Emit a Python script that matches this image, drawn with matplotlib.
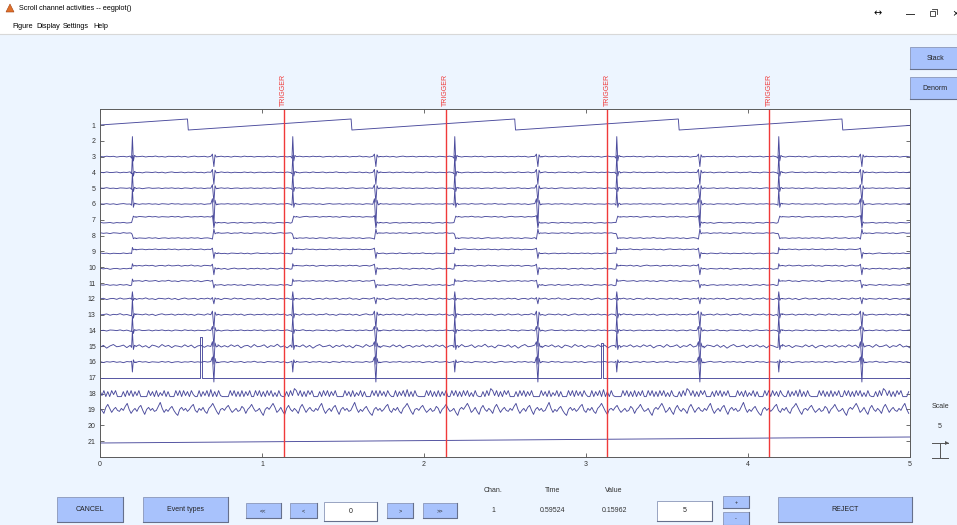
import numpy as np
import matplotlib.pyplot as plt
from matplotlib.patches import Rectangle, Polygon

plt.rcParams['font.family'] = ['Liberation Sans', 'DejaVu Sans']

W, H = 957, 525

# ---------------- data ----------------
channel_labels = [str(i) for i in range(1, 22)]
x_ticks = [0, 1, 2, 3, 4, 5]
trigger_times = [1.135, 2.135, 3.13, 4.13]
trigger_label = "TRIGGER"

# spike events (s)
times_A = [0.20, 1.19, 2.19, 3.19, 4.19]
times_B = [0.70, 1.70, 2.70, 3.70, 4.70]

# spike shapes (offset s, relative value)
spikeA_dt = [-0.014, -0.005, 0.0, 0.006, 0.013, 0.022]
spikeA_v = [0.0, -0.08, 1.0, -0.22, 0.06, 0.0]
spikeB_dt = [-0.016, -0.006, 0.003, 0.010, 0.018, 0.028]
spikeB_v = [0.0, -0.25, 1.0, -0.18, 0.04, 0.0]

# channels 3..16 : spike amplitude at A, at B, step A->B, ripple (pixels)
spike_chans = [3, 4, 5, 6, 7, 8, 9, 10, 11, 12, 13, 14, 15, 16]
ampA_px = [20, 17, 15, 15, -3, 3, 2, 2, 2, 7, 16, 14, 15, -10]
ampB_px = [-10, -12, -14, -21, -5, 4, -5, -6, -3, -5, -14, -16, -18, -20]
step_px = [0, 0, 0, 0, 6, -5, 4, 3, 4, 0, 0, 0, 0, 0]
ripple_px = [0.8, 0.8, 0.7, 0.7, 0.8, 0.8, 0.8, 1.0, 1.0, 1.3, 1.3, 1.0, 2.8, 1.1]

ripple = [0.2, -0.3, 0.5, -0.1, 0.4, -0.6, 0.1, 0.3, -0.4, 0.6, -0.2, 0.0,
          0.5, -0.5, 0.2, -0.1, 0.7, -0.3, 0.1, -0.6, 0.4, 0.2, -0.2, 0.5,
          -0.4, 0.3, -0.7, 0.1, 0.6, -0.2, 0.0, 0.4, -0.5, 0.3, -0.1, 0.5,
          -0.3, 0.2, -0.6, 0.4, 0.1, -0.4, 0.6, -0.1, 0.3, -0.5, 0.2, 0.0,
          -0.3, 0.5, -0.2, 0.4, -0.6, 0.1, 0.3, -0.4, 0.2, -0.1, 0.5, -0.3]

# channel 1 sawtooth
saw_t = [0.0, 0.54, 0.545, 1.55, 1.555, 2.56, 2.565, 3.57, 3.575, 4.58, 4.585, 5.0]
saw_v = [0.0, 6, -5, 6, -5, 6, -5, 6, -5, 6, -5, -0.4]

# channel 17 pulses
pulse_t = [0.615, 3.09]
pulse_h = [41, 35]

# channels 18, 19
noise18 = [3, -2, 3, -3, 2, -3, 3, -1, 3, -3, -3, -3, 2, -3, 3, -2, 3, -3, 2, -2,
           3, -3, -3, -3, -3, 3, -2, 2, -3, 3, -3, 1, -2, 3, -3, 2, -3, -3, -3, 3,
           -2, 3, -3, 3, -2, 2, -3, 3, -1, -3, -3, 3, -3, 2, -2, 3, -3, 4, -3, 2,
           -3, 3, -2, -3, -3, -3, -3, 3, -2, 3, -3, 2, -3, 3, -3, 2, -2, 3, -3, -3,
           3, -2, 3, -3, 2, -3, 3, -2, 3, -3, 1, -3, 3, -2, -3, -3, 2, -3, 3, -2, 5]
noise19 = [0, 3, 6, 2, -3, -1, 2, -2, -5, 1, 4, 0, -2, 1, -1, -4, 2, 5, 1, -3,
           0, 2, -1, -2, 1, -1, 3, 6, 0, -4, -1, 1, -2, 2, 4, -1, -5, 0, 2, -1,
           1, -2, -1, 3, 7, 1, -3, 0, -2, 1, 3, -1, -4, -6, 0, 2, -1, 1, -2, 0,
           3, 5, -1, -3, 1, -1, 2, -2, -4, 1, 3, 6, 2, -2, -5, 0, 1, -1, 2, 4,
           0, -3, -1, 1, -2, -1, 3, 1, -4, 0, 2, 5, 1, -2, -1, 1, -3, -6, 0, 2]

# channel 21 drift
ch21_t = [0.0, 5.0]
ch21_v = [-2, 4]

# ---------------- style ----------------
bg = '#edf5ff'
btn = '#a8c2fc'
trace_col = '#4a4a9c'
red = '#f03a3a'
px_unit = 15.8   # pixels per channel spacing

fig = plt.figure(figsize=(W / 100, H / 100), dpi=100, facecolor=bg)

gui = fig.add_axes([0, 0, 1, 1], zorder=0)
gui.set_xlim(0, W)
gui.set_ylim(H, 0)
gui.axis('off')

# title bar / menu
gui.add_patch(Rectangle((0, 0), W, 34, facecolor='white', edgecolor='none'))
gui.plot([0, W], [34, 34], color='#d8d8d8', lw=0.8)
gui.add_patch(Polygon([[6, 12], [10, 4], [14, 12]], closed=True,
                      facecolor='#e0702a', edgecolor='#a04010', lw=0.4))
gui.text(19, 8, "Scroll channel activities -- eegplot()", fontsize=5.2, va='center')
for x, s in zip([12, 36, 63, 93], ["Figure", "Display", "Settings", "Help"]):
    gui.text(x, 27, s, fontsize=5.2, va='center')
gui.text(878, 13, "\u2194", fontsize=7, ha='center', va='center', family='DejaVu Sans')
gui.plot([906, 914], [14, 14], color='#333', lw=0.7)
gui.add_patch(Rectangle((930, 11), 5, 5, facecolor='none', edgecolor='#333', lw=0.6))
gui.plot([932, 937, 937], [9, 9, 14], color='#333', lw=0.6)
gui.text(955, 13, "\u00d7", fontsize=8, ha='center', va='center')


def button(x0, y0, x1, y1, label, face=btn, fs=5):
    gui.add_patch(Rectangle((x0, y0), x1 - x0, y1 - y0, facecolor=face,
                            edgecolor='#8a96b8', lw=0.6))
    gui.plot([x0, x1, x1], [y1, y1, y0], color='#66708c', lw=0.8)
    if label:
        gui.text((x0 + x1) / 2, (y0 + y1) / 2, label, fontsize=fs,
                 ha='center', va='center', color='#222')


button(910, 47, 960, 69, "Stack")
button(910, 77, 960, 99, "Denorm")

button(57, 497, 123, 522, "CANCEL")
button(143, 497, 228, 522, "Event types")
button(246, 503, 281, 518, "<<", fs=4)
button(290, 503, 317, 518, "<", fs=4)
button(324, 502, 377, 521, "0", face='white')
button(387, 503, 413, 518, ">", fs=4)
button(423, 503, 457, 518, ">>", fs=4)
for x, a, b in zip([493, 553, 614], ["Chan.", "Time", "Value"], ["1", "0.59524", "0.15962"]):
    gui.text(x, 491, a, fontsize=5, ha='center', va='center', color='#333')
    gui.text(x, 510, b, fontsize=5, ha='center', va='center', color='#333')
button(657, 501, 712, 521, "5", face='white')
button(723, 496, 749, 508, "+", fs=4)
button(723, 512, 749, 525, "-", fs=4)
button(778, 497, 912, 522, "REJECT")

# scale indicator
gui.text(940, 407, "Scale", fontsize=5, ha='center', va='center', color='#333')
gui.text(940, 426, "5", fontsize=5, ha='center', va='center', color='#333')
gui.plot([932, 948], [443, 443], color='#555', lw=0.7)
gui.plot([940, 940], [443, 458], color='#555', lw=0.7)
gui.plot([932, 948], [458, 458], color='#555', lw=0.7)
gui.add_patch(Polygon([[945, 441], [949, 443], [945, 445]], closed=True,
                      facecolor='#555', edgecolor='none'))

# ---------------- main axes ----------------
ax_l, ax_r, ax_t, ax_b = 100, 910, 109.2, 456.8
ax = fig.add_axes([ax_l / W, 1 - ax_b / H, (ax_r - ax_l) / W, (ax_b - ax_t) / H], zorder=1)
ax.set_facecolor('white')
n = len(channel_labels)
ax.set_xlim(0, 5)
ax.set_ylim(0, n + 1)
ax.set_yticks([n + 1 - i for i in range(1, n + 1)])
ax.set_yticklabels(channel_labels)
ax.set_xticks(x_ticks)
ax.tick_params(direction='in', length=3, width=0.6, labelsize=5, top=True,
               right=True, pad=3, color='#555', labelcolor='#333')
for s in ax.spines.values():
    s.set_color('#5a5a5a')
    s.set_linewidth(0.7)


def base(ch):
    return n + 1 - ch


def draw(t, v_px, ch):
    ax.plot(t, base(ch) + np.asarray(v_px, dtype=float) / px_unit,
            color=trace_col, lw=0.65)


# channel 1
draw(saw_t, saw_v, 1)

# channels 3..16
events = sorted([(t, 'A') for t in times_A] + [(t, 'B') for t in times_B])
ripple_dt = 0.02
for ci, ch in enumerate(spike_chans):
    ts, vs = [], []
    level = -step_px[ci] / 2
    seg_start = 0.0
    k = ci * 7
    for te, kind in events + [(5.0, 'end')]:
        if kind == 'end':
            seg_end = 5.0
        else:
            dts = spikeA_dt if kind == 'A' else spikeB_dt
            seg_end = te + dts[0]
        m = max(int((seg_end - seg_start) / ripple_dt), 1)
        for j in range(m + 1):
            ts.append(seg_start + j * (seg_end - seg_start) / m)
            vs.append(level + ripple_px[ci] * ripple[k % len(ripple)])
            k += 1
        if kind == 'end':
            break
        vals = spikeA_v if kind == 'A' else spikeB_v
        amp = ampA_px[ci] if kind == 'A' else ampB_px[ci]
        new_level = step_px[ci] / 2 if kind == 'A' else -step_px[ci] / 2
        for dt, v in zip(dts[1:], vals[1:]):
            lv = level if dt < 0 else new_level
            ts.append(te + dt)
            vs.append(lv + amp * v)
        level = new_level
        seg_start = te + dts[-1]
    draw(ts, vs, ch)

# channel 17
t17, v17 = [0.0], [0.0]
for pt, ph in zip(pulse_t, pulse_h):
    t17 += [pt, pt, pt + 0.015, pt + 0.015]
    v17 += [0, ph, ph, 0]
t17.append(5.0)
v17.append(0.0)
draw(t17, v17, 17)

# channels 18, 19
noise_dt = 0.012
m = int(5 / noise_dt) + 1
t_noise = np.arange(m) * noise_dt
draw(t_noise, [noise18[i % len(noise18)] for i in range(m)], 18)
draw(t_noise, [noise19[(i + 13) % len(noise19)] for i in range(m)], 19)

# channel 21
draw(ch21_t, ch21_v, 21)

# triggers
for tt in trigger_times:
    ax.axvline(tt, color=red, lw=1.0)
    ax.text(tt, n + 1.2, trigger_label, rotation=90, color=red, fontsize=5,
            ha='center', va='bottom', clip_on=False)

fig.savefig('out.png', dpi=100, facecolor=bg)
